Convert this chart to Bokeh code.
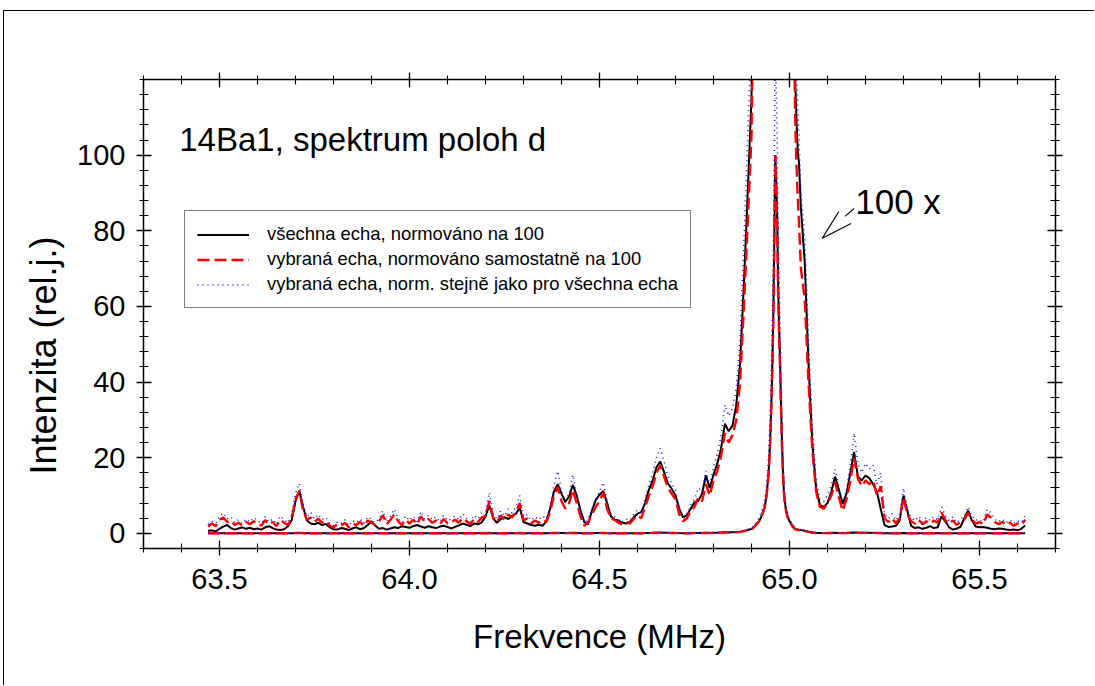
import numpy as np
from bokeh.plotting import figure
from bokeh.models import (Range1d, LinearAxis, FixedTicker, PrintfTickFormatter,
                          Legend, LegendItem, Label, Title)
from bokeh.embed import file_html
from bokeh.resources import INLINE

FONT = "Liberation Sans"

# ---------------------------------------------------------------------------
# Spectrum of the d positions (14Ba1).  Frequencies in MHz.
# Wings are sampled every 10 kHz, the main line every 2.5 kHz.
# Wing intensities are listed in hundredths of rel. units (i.e. as read on
# the 100x magnified trace); core intensities are in rel. units.
# ---------------------------------------------------------------------------
freq_left = np.round(np.arange(63.47, 64.895, 0.01), 3)
freq_core = np.round(np.arange(64.90, 65.0301, 0.0025), 4)
freq_right = np.round(np.arange(65.04, 65.625, 0.01), 3)

# all echoes, normalised to 100
black_left = [
    0.6, 0.8, 0.5,
    1.2, 1.8, 2.2, 1.4, 1.0, 1.3, 1.6, 1.2, 1.5, 1.1,
    1.3, 1.0, 1.6, 1.9, 1.4, 1.0, 0.9, 1.1, 1.9, 3.5,
    8.5, 11.2, 7.0, 3.4, 2.6, 2.4, 2.8, 2.2, 2.5, 1.6,
    1.1, 1.0, 1.4, 1.2, 0.9, 1.3, 1.6, 1.1, 1.4, 2.2,
    3.2, 2.0, 1.2, 1.4, 1.0, 1.3, 1.6, 1.4, 1.9, 1.7,
    1.5, 1.9, 2.2, 1.8, 1.5, 1.9, 1.6, 1.4, 1.8, 2.0,
    1.7, 1.3, 1.7, 2.1, 2.6, 2.3, 1.9, 2.6, 2.4, 2.9,
    4.5, 7.4, 4.0, 2.8, 3.8, 4.3, 3.8, 4.6, 5.2, 6.8,
    3.0, 2.6, 2.2, 2.0, 2.3, 2.0, 3.2, 6.5, 11.0, 13.0,
    10.5, 8.3, 9.8, 12.8, 10.0, 6.0, 3.0, 2.4, 6.0, 8.8,
    10.2, 11.2, 8.0, 4.5, 3.6, 3.4, 2.8, 2.6, 3.0, 4.2,
    5.2, 5.6, 8.0, 11.5, 14.0, 17.5, 19.0, 16.2, 13.2, 11.8,
    10.0, 6.5, 4.2, 4.8, 6.5, 8.2, 8.6, 10.5, 15.3, 12.0,
    15.5, 18.5, 22.5, 29.0, 27.0, 28.5, 34.0, 45.0, 66.0, 90.0,
]
black_core = [
    1.15, 1.35, 1.6, 1.85,
    2.1, 2.4, 2.7, 3.0,
    3.3, 3.7, 4.2, 4.9,
    5.6, 6.4, 7.0, 8.5,
    10.5, 13.0, 16.0, 21.0,
    27.0, 35.0, 45.0, 58.0,
    77.0, 100.0, 93.0, 84.0,
    66.0, 55.0, 46.0, 35.0,
    25.0, 17.0, 11.5, 8.5,
    6.8, 5.4, 4.5, 3.8,
    3.2, 2.8, 2.5, 2.1,
    1.75, 1.45, 1.2, 1.12,
    1.05, 1.0, 0.98, 0.92,
    0.86,
]
black_right = [
    72.0, 45.0, 24.0, 12.0, 7.5, 7.0,
    8.0, 11.0, 15.0, 11.5, 7.8, 10.5, 16.0, 21.5, 15.0, 14.0,
    15.3, 14.6, 13.0, 11.0, 6.5, 2.2, 1.7, 1.8, 2.0, 3.4,
    10.0, 6.0, 2.0, 1.4, 1.6, 1.2, 1.5, 1.9, 1.4, 1.6,
    4.5, 3.2, 1.6, 1.0, 1.3, 1.7, 4.0, 6.0, 3.4, 1.8,
    1.6, 1.7, 1.5, 1.2, 1.1, 1.3, 1.2, 1.0, 0.9, 1.0,
    0.8, 1.2, 2.1,
]

# selected echoes, normalised separately to 100
red_left = [
    1.8, 2.6, 1.9,
    3.6, 4.2, 3.0, 3.4, 2.2, 2.8, 2.0, 3.0, 2.4, 3.2,
    2.6, 2.0, 3.5, 2.4, 3.0, 1.9, 3.6, 2.8, 2.2, 4.0,
    9.0, 11.3, 6.0, 3.6, 4.2, 3.0, 3.9, 2.8, 3.3, 2.0,
    1.6, 2.4, 2.0, 2.8, 1.6, 2.6, 2.2, 3.0, 2.0, 3.4,
    2.8, 2.2, 3.2, 4.8, 2.4, 3.6, 5.0, 3.2, 2.2, 3.6,
    2.6, 3.6, 2.4, 4.5, 3.0, 3.8, 2.8, 3.4, 2.4, 3.8,
    2.6, 3.0, 3.6, 2.8, 4.0, 3.2, 2.4, 3.8, 3.0, 4.2,
    4.6, 8.6, 4.2, 3.0, 4.8, 3.6, 5.0, 4.2, 5.6, 8.0,
    3.4, 4.0, 2.6, 3.4, 2.8, 3.6, 3.0, 5.6, 10.0, 12.2,
    8.5, 6.5, 8.0, 11.5, 8.0, 4.5, 2.0, 3.0, 5.0, 7.0,
    8.5, 10.8, 6.5, 4.0, 3.5, 2.8, 2.4, 3.0, 2.6, 3.8,
    4.8, 4.0, 7.0, 10.0, 12.5, 16.0, 18.0, 15.0, 12.0, 10.5,
    9.0, 5.0, 3.2, 4.0, 6.0, 7.0, 9.5, 8.5, 13.0, 10.0,
    14.0, 16.5, 20.5, 26.5, 24.0, 26.0, 30.0, 40.0, 60.0, 82.0,
]
red_core = [
    1.05, 1.25, 1.5, 1.75,
    2.0, 2.3, 2.6, 2.9,
    3.2, 3.6, 4.1, 4.8,
    5.5, 6.2, 7.0, 8.4,
    10.3, 12.8, 15.8, 20.5,
    26.5, 34.5, 44.5, 57.5,
    77.0, 100.0, 92.0, 82.0,
    64.0, 53.0, 44.0, 33.0,
    23.5, 16.0, 11.0, 8.0,
    6.4, 5.1, 4.2, 3.5,
    3.0, 2.6, 2.3, 1.9,
    1.55, 1.28, 1.1, 1.0,
    0.93, 0.87, 0.82, 0.76,
    0.70,
]
red_right = [
    62.0, 40.0, 22.0, 11.0, 7.0, 6.5,
    8.0, 10.0, 13.5, 9.5, 6.0, 9.0, 14.0, 20.0, 14.5, 12.5,
    14.0, 13.0, 14.0, 10.0, 12.5, 4.0, 3.0, 4.0, 2.6, 4.0,
    9.5, 5.0, 3.2, 2.6, 3.6, 2.4, 3.2, 2.6, 3.4, 2.8,
    5.5, 3.5, 2.6, 3.4, 2.2, 3.0, 3.6, 5.4, 3.6, 2.6,
    3.0, 2.4, 5.0, 4.2, 3.0, 2.4, 3.0, 2.2, 2.8, 2.0,
    2.6, 2.2, 3.6,
]

# selected echoes, normalised the same way as all echoes
blue_left = [
    2.4, 3.2, 2.6,
    4.6, 5.4, 3.8, 4.4, 2.8, 3.6, 2.6, 3.8, 3.0, 4.2,
    3.4, 2.6, 4.4, 3.0, 3.8, 2.4, 4.6, 3.6, 2.8, 5.0,
    10.6, 13.2, 7.4, 4.4, 5.6, 3.8, 5.0, 3.6, 4.2, 2.6,
    2.0, 3.0, 2.6, 3.6, 2.0, 3.4, 2.8, 3.8, 2.6, 4.4,
    3.6, 2.8, 4.0, 6.0, 3.0, 4.6, 6.4, 4.0, 2.8, 4.6,
    3.4, 4.6, 3.0, 5.8, 3.8, 4.8, 3.6, 4.4, 3.0, 4.8,
    3.4, 3.8, 4.6, 3.6, 5.2, 4.0, 3.0, 4.8, 3.8, 5.4,
    5.8, 10.8, 5.4, 3.8, 6.0, 4.6, 6.4, 5.4, 7.0, 10.0,
    4.4, 5.0, 3.4, 4.4, 3.6, 4.6, 3.8, 7.0, 12.8, 16.5,
    11.0, 8.5, 10.5, 15.5, 10.0, 5.8, 2.6, 3.8, 6.4, 9.0,
    11.0, 13.5, 8.4, 5.0, 4.4, 3.6, 3.0, 3.8, 3.4, 5.0,
    6.2, 5.2, 9.0, 12.8, 16.0, 20.0, 22.5, 19.0, 15.0, 13.2,
    11.4, 6.4, 4.0, 5.0, 7.6, 9.0, 12.0, 11.0, 16.5, 12.8,
    17.5, 21.0, 26.0, 34.0, 31.0, 33.0, 38.5, 51.0, 77.0, 105.0,
]
blue_core = [
    1.34, 1.6, 1.92, 2.24,
    2.56, 2.94, 3.33, 3.71,
    4.1, 4.6, 5.25, 6.14,
    7.04, 7.94, 8.96, 10.75,
    13.2, 16.4, 20.2, 26.2,
    33.9, 44.2, 57.0, 73.6,
    98.6, 128.0, 117.8, 105.0,
    81.9, 67.8, 56.3, 42.2,
    30.1, 20.5, 14.1, 10.2,
    8.2, 6.5, 5.4, 4.5,
    3.84, 3.33, 2.94, 2.43,
    1.98, 1.64, 1.41, 1.28,
    1.19, 1.11, 1.05, 0.97,
    0.90,
]
blue_right = [
    78.0, 51.0, 28.0, 14.0, 9.0, 8.4,
    10.2, 12.8, 17.0, 12.2, 7.8, 11.5, 18.0, 26.5, 18.5, 16.0,
    18.5, 17.0, 18.0, 13.0, 16.0, 5.2, 3.8, 5.2, 3.4, 5.2,
    12.0, 6.4, 4.2, 3.4, 4.6, 3.0, 4.2, 3.4, 4.4, 3.6,
    7.0, 4.6, 3.4, 4.4, 2.8, 3.8, 4.6, 7.0, 4.6, 3.4,
    3.8, 3.0, 6.4, 5.4, 3.8, 3.0, 3.8, 2.8, 3.6, 2.6,
    3.4, 2.8, 4.6,
]

series_labels = [
    "všechna echa, normováno na 100",
    "vybraná echa, normováno samostatně na 100",
    "vybraná echa, norm. stejně jako pro všechna echa",
]
x_ticks = [63.5, 64.0, 64.5, 65.0, 65.5]
y_ticks = [0, 20, 40, 60, 80, 100]
MAGNIFICATION = 100


def spectrum(left, core, right):
    """Join wing and core samples into one spectrum in rel. units."""
    return np.concatenate([np.asarray(left) / MAGNIFICATION,
                           np.asarray(core),
                           np.asarray(right) / MAGNIFICATION])


freq = np.concatenate([freq_left, freq_core, freq_right])
spectra = [
    spectrum(black_left, black_core, black_right),
    spectrum(red_left, red_core, red_right),
    spectrum(blue_left, blue_core, blue_right),
]

# ---------------------------------------------------------------------------
p = figure(width=1091, height=675,
           x_range=Range1d(63.3, 65.7), y_range=Range1d(-4, 120),
           output_backend="svg", toolbar_location=None,
           x_axis_location=None, y_axis_location=None,
           min_border_left=139, min_border_right=40,
           min_border_top=68, min_border_bottom=138)
p.margin = (10, 0, 0, 3)
p.styles = {"border-top": "1px solid #000000", "border-left": "1px solid #000000"}
p.xgrid.visible = False
p.ygrid.visible = False
p.outline_line_color = None
p.background_fill_color = "white"
p.border_fill_color = "white"

xticker = FixedTicker(ticks=x_ticks,
                      minor_ticks=list(np.round(np.arange(63.3, 65.71, 0.1), 2)))
yticker = FixedTicker(ticks=y_ticks, minor_ticks=list(range(-4, 121, 4)))


def style_axis(ax, ticker, labelled):
    ax.ticker = ticker
    ax.axis_line_color = "black"
    ax.axis_line_width = 1.5
    ax.major_tick_line_color = "black"
    ax.minor_tick_line_color = "black"
    ax.major_tick_line_width = 1.3
    ax.minor_tick_line_width = 1.1
    ax.major_tick_in = 8
    ax.major_tick_out = 7
    ax.minor_tick_in = 5
    ax.minor_tick_out = 4
    ax.major_label_text_font = FONT
    ax.major_label_text_font_size = "29px"
    ax.major_label_text_color = "black"
    ax.axis_label_text_font = FONT
    ax.axis_label_text_font_size = "33px"
    ax.axis_label_text_font_style = "normal"
    ax.axis_label_text_color = "black"
    if not labelled:
        ax.major_label_text_font_size = "0px"
        ax.major_label_text_alpha = 0


xb = LinearAxis(axis_label="Frekvence (MHz)", formatter=PrintfTickFormatter(format="%.1f"))
style_axis(xb, xticker, True)
xb.major_label_standoff = 13
xb.axis_label_standoff = 26
p.add_layout(xb, "below")

yl = LinearAxis(formatter=PrintfTickFormatter(format="%d"))
style_axis(yl, yticker, True)
yl.major_label_standoff = 11
p.add_layout(yl, "left")

xt = LinearAxis()
style_axis(xt, xticker, False)
p.add_layout(xt, "above")

yr = LinearAxis()
style_axis(yr, yticker, False)
p.add_layout(yr, "right")

# vertical axis title, starting a little above the bottom of the axis
p.add_layout(Title(text="Intenzita (rel.j.)", align="left", offset=74,
                   text_font=FONT, text_font_size="36px",
                   text_font_style="normal", text_color="black",
                   standoff=22), "left")

# line styles: all echoes / selected (own norm.) / selected (common norm.)
styles = [
    dict(line_color="#000000", line_width=2.0, line_dash="solid"),
    dict(line_color="#ff0000", line_width=2.4, line_dash="12 5"),
    dict(line_color="#1a1aff", line_width=1.6, line_dash="1 4"),
]

items = []
for s, st, lab in zip(spectra, styles, series_labels):
    # plain spectrum and the 100x magnified copy of the same data
    p.line(freq, s, **st)
    r = p.line(freq, s * MAGNIFICATION, **st)
    items.append(LegendItem(label=lab, renderers=[r]))

legend = Legend(items=items, location=(41, 240))
legend.label_text_font = FONT
legend.label_text_font_size = "18.4px"
legend.label_text_color = "black"
legend.border_line_color = "black"
legend.border_line_width = 1
legend.background_fill_color = "white"
legend.background_fill_alpha = 1
legend.padding = 12
legend.spacing = 3
legend.glyph_width = 52
legend.glyph_height = 21
legend.label_height = 21
legend.label_standoff = 18
legend.margin = 0
p.add_layout(legend, "center")

# sample name
p.add_layout(Label(x=63.394, y=104.1, text="14Ba1, spektrum poloh d",
                   text_font=FONT, text_font_size="33px",
                   text_baseline="alphabetic", text_color="black"))

# magnification note with an open arrow pointing at the magnified wing
p.add_layout(Label(x=65.173, y=87.8, text="100 x",
                   text_font=FONT, text_font_size="35px",
                   text_baseline="alphabetic", text_color="black"))
tip_x, tip_y = 65.086, 78.0
p.segment(x0=[tip_x, tip_x, 65.146], y0=[tip_y, tip_y, 83.8],
          x1=[65.130, 65.162, 65.170], y1=[85.1, 81.9, 85.9],
          line_color="black", line_width=1.1)

open("out.html", "w").write(file_html(p, INLINE))
